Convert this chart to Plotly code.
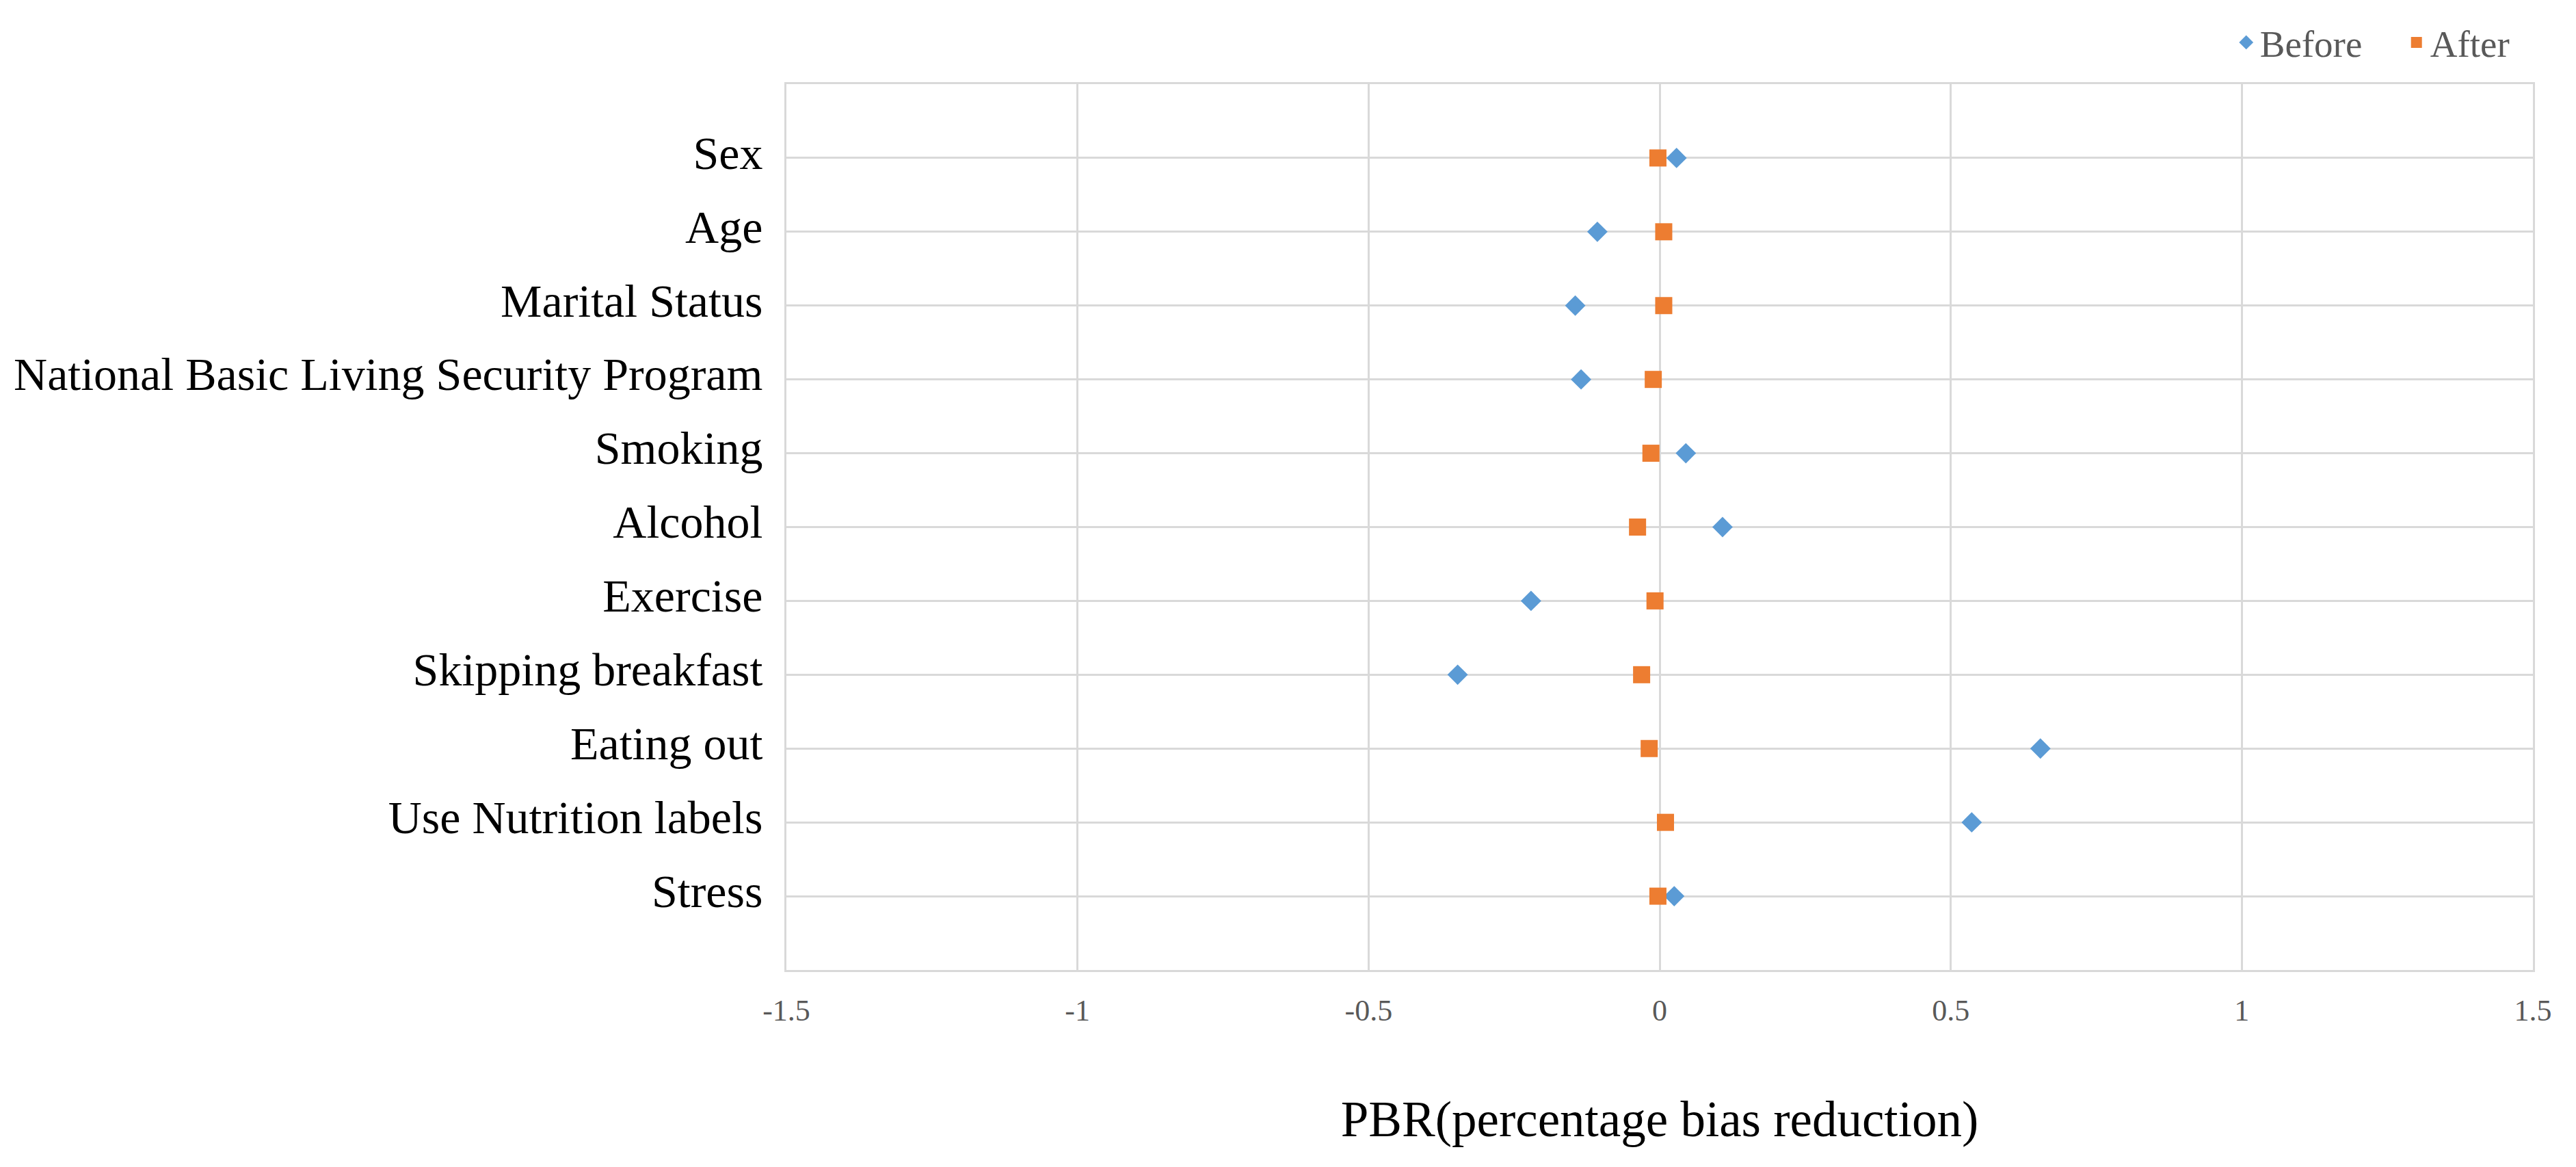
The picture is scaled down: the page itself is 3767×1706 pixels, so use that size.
import plotly.graph_objects as go

categories = ["Sex", "Age", "Marital Status", "National Basic Living Security Program",
              "Smoking", "Alcohol", "Exercise", "Skipping breakfast", "Eating out",
              "Use Nutrition labels", "Stress"]
before = [0.029, -0.107, -0.145, -0.135, 0.045, 0.108, -0.221, -0.347, 0.654, 0.536, 0.025]
after = [-0.003, 0.007, 0.007, -0.011, -0.015, -0.038, -0.008, -0.031, -0.018, 0.010, -0.003]
x_tickvals = [-1.5, -1, -0.5, 0, 0.5, 1, 1.5]
x_ticktext = ["-1.5", "-1", "-0.5", "0", "0.5", "1", "1.5"]

FONT = "Liberation Serif"
GRID = "#d9d9d9"

fig = go.Figure()
fig.add_trace(go.Scatter(
    x=before, y=categories, mode="markers", name="Before",
    marker=dict(symbol="diamond", size=23, color="#5B9BD5", line=dict(width=0)),
))
fig.add_trace(go.Scatter(
    x=after, y=categories, mode="markers", name="After",
    marker=dict(symbol="square", size=25, color="#ED7D31", line=dict(width=0)),
))

fig.update_layout(
    width=3767, height=1706,
    margin=dict(l=1137, r=54, t=111, b=296),
    paper_bgcolor="white", plot_bgcolor="white",
    font=dict(family=FONT, color="#000000"),
    showlegend=True,
    legend=dict(
        orientation="h", xanchor="left", yanchor="middle",
        x=0.828, y=1.047,
        font=dict(family=FONT, size=55, color="#595959"),
        itemsizing="trace",
        entrywidth=204, entrywidthmode="pixels",
        bgcolor="rgba(0,0,0,0)",
    ),
    xaxis=dict(
        range=[-1.5, 1.5], tickvals=x_tickvals, ticktext=x_ticktext,
        showgrid=True, gridcolor=GRID, gridwidth=3,
        zeroline=False,
        showline=True, mirror=True, linecolor=GRID, linewidth=3,
        ticks="", ticklabelstandoff=18,
        tickfont=dict(family=FONT, size=44, color="#595959"),
        title=dict(text="PBR(percentage bias reduction)",
                   font=dict(family=FONT, size=73, color="#000000"),
                   standoff=110),
    ),
    yaxis=dict(
        type="category", categoryorder="array", categoryarray=categories,
        range=[11, -1],
        showgrid=True, gridcolor=GRID, gridwidth=3,
        zeroline=False,
        showline=True, mirror=True, linecolor=GRID, linewidth=3,
        ticks="", ticklabelstandoff=18, ticklabelshift=8,
        tickfont=dict(family=FONT, size=68, color="#000000"),
    ),
)

fig.write_html("out.html")
